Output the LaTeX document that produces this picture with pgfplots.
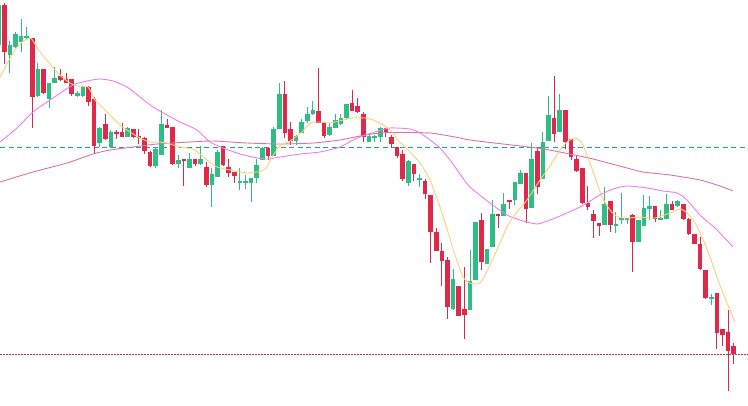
\documentclass[border=0pt]{standalone}
\usepackage{pgfplots}
\usepackage{pgfplotstable}
\pgfplotsset{compat=1.18}
\definecolor{up}{HTML}{2EBD85}
\definecolor{dn}{HTML}{E0294A}
\definecolor{dashteal}{HTML}{10AA8C}
\definecolor{dotred}{HTML}{D42D4C}
\definecolor{maA}{HTML}{FBD07C}
\definecolor{maB}{HTML}{EE7CF2}
\definecolor{maC}{HTML}{DE72A6}

% candles: index, open, high, low, close (pixel rows, top = 0)
\pgfplotstableread{
i o h l c
0 45 3 45 5
2 55 41 73 45
3 47 32 47.5 34
4 42 19 52 36
5 38 27 40 36
7 96 63 97 69
9 99 83 108 83
10 83 67 83 78
14 96 91 96.5 93
15 96 86 97 87
18 143 127 147 128
20 147 130 148 132
23 137 127 137 128
28 165.5 147.5 167.5 148.5
29 154.5 109.5 155 124
32 164 155 167.5 160
34 168 152.5 168 159
36 164 146 164.5 159
38 185 168 207 174
39 177 150 177 152
43 182 168 190 181
44 183 175 189 181
45 183 178 201.5 178
46 178 159 183 165
47 160 147 160 148
49 155.5 126.5 155.5 129
50 129 83 129 94
53 141 135 145 136
54 133 119 133 122
55 121 106.5 123 114
56 114 101 115 110
59 135 123 136 126.5
60 127.5 114 128 120
61 124 114 125 118
62 118 104 119 104
66 141.5 132.5 141.5 136
67 137.5 135 141.5 136.5
68 136.5 126.5 141.5 128
73 183 160 185.5 161
75 179.5 174 186.5 178.5
81 309 269 310 279
84 309.5 250 310 281
85 280 222 280 222
87 264 249 264 249
88 246.5 200 246.5 214
90 215.5 193 215.5 204
92 200 181.5 205 181.5
93 184 170 184 172.5
95 208 143 208 159
97 179 131.5 179 141.5
98 140.5 96 140.5 115
100 131.5 93.5 131.5 110
108 225 186.5 225 204
110 225 211.5 233 224
111 219.5 193 224 218.5
112 219.5 218 224 218.5
114 241.5 220 241.5 220
115 226 195 226 208
116 208.5 196 219.5 206
118 219.5 209.5 219.5 217.5
119 218.5 193.5 218.5 204
121 206 200 206.5 200.5
127 298 293.5 305 297
}\upT

\pgfplotstableread{
i o h l c
1 5 3 64 52
6 38 38 128 97
8 69 69 94 93
11 76 69 81 80
12 79 73 83 83
13 79 79 96 94
16 87 86 106 102
17 99 97 154 146
19 124 114 140 139
21 132 130 138.5 133.5
22 132 123 137 137
24 129 129 137.5 137
25 136 129 143.5 137.5
26 138 137 154 150.5
27 152 150.5 167 166
30 125 118.5 128 128
31 126.5 126.5 165 164
33 159 159 186 160.5
35 159 159 166 164
37 166.5 161.5 186.5 185
40 146 146 166 165
41 166.5 159 177 173
42 171.5 171.5 183 176
48 148 147 160 156
51 94 80.5 138 132.5
52 129 122 145 141
57 111 68 123 123
58 123 122.5 138 136
63 102.5 90 110.5 110.5
64 106 98 113 112
65 114 111.5 141.5 136.5
69 128 128 136.5 131.5
70 136.5 135 148 144
71 147 146.5 157.5 156
72 154 150 181 179
74 164 164 181 174
76 181 179 199 194
77 195 195 263 231.5
78 232 228 250.5 250.5
79 250.5 243 285.5 261
80 260 256.5 319 306.5
82 286 286 316 315.5
83 309 266.5 339 315
86 220 213 270 262
89 214 214 228 215
91 200 200 209 201.5
94 173 173 223 209
96 150.5 147 194 187
99 117.5 76 141.5 133.5
101 110 109.5 148.5 141.5
102 138.5 138.5 159.5 156.5
103 158.5 155 171.5 170.5
104 167.5 167.5 204 202.5
105 202.5 186 210 206.5
106 213.5 210 237.5 220.5
107 222.5 222.5 235.5 225.5
109 201 201 231.5 225
113 215 214 271.5 241.5
117 206 206 221.5 218.5
120 204 200.5 210 209.5
122 204 204 219.5 218.5
123 218.5 217.5 235 234
124 233.5 233.5 244 243.5
125 243.5 236.5 270 269
126 270 270 298.5 297.5
128 292.5 292.5 348.5 332.5
129 328.5 328.5 345.5 334.5
130 331.5 310 390.5 350.5
131 345.5 342.5 364 354
}\dnT

\pgfplotsset{
  candle/.style={only marks, mark=*, mark size=0pt,
    mark options={draw=none, fill=none, opacity=0},
    error bars/y dir=both, error bars/y explicit, error bars/error mark=none,
    error bars/error bar style={draw=#1}},
}

\begin{document}
\begin{tikzpicture}
\begin{axis}[
  scale only axis, width=748pt, height=405pt,
  xmin=0, xmax=748, ymin=0, ymax=405, y dir=reverse,
  axis line style={draw=none}, xtick=\empty, ytick=\empty,
  clip=true,
]
% reference lines
\addplot[draw=dashteal, line width=1pt, dash pattern=on 5pt off 3.5pt] coordinates {(0,147.5) (748,147.5)};
\addplot[draw=dotred, line width=1pt, dash pattern=on 1.5pt off 1.5pt] coordinates {(0,354.5) (748,354.5)};

% wicks
\addplot[candle=up, error bars/error bar style={line width=1pt}]
  table[x expr={4.3+(\thisrow{i}-1)*5.611}, y expr={(\thisrow{h}+\thisrow{l})/2}, y error expr={(\thisrow{l}-\thisrow{h})/2}] {\upT};
\addplot[candle=dn, error bars/error bar style={line width=1pt}]
  table[x expr={4.3+(\thisrow{i}-1)*5.611}, y expr={(\thisrow{h}+\thisrow{l})/2}, y error expr={(\thisrow{l}-\thisrow{h})/2}] {\dnT};
% bodies
\addplot[candle=up, error bars/error bar style={line width=4.6pt}]
  table[x expr={4.3+(\thisrow{i}-1)*5.611}, y expr={(\thisrow{o}+\thisrow{c})/2}, y error expr={max(abs(\thisrow{o}-\thisrow{c})/2,0.6)}] {\upT};
\addplot[candle=dn, error bars/error bar style={line width=4.6pt}]
  table[x expr={4.3+(\thisrow{i}-1)*5.611}, y expr={(\thisrow{o}+\thisrow{c})/2}, y error expr={max(abs(\thisrow{o}-\thisrow{c})/2,0.6)}] {\dnT};

% moving averages
\addplot[draw=maC, line width=0.9pt, smooth, tension=0.4] coordinates {
(0,182) (33,172) (67,163) (93,154) (110,150) (133,147) (157,144) (190,142) (213,141) (247,143) (280,144) (313,143) (340,140) (360,136) (380,133) (400,132.5) (430,133) (455,137) (470,140) (503,144) (537,148) (560,152) (593,159) (627,168) (643,172) (670,175) (700,180) (720,186) (733,191)};
\addplot[draw=maB, line width=0.9pt, smooth, tension=0.4] coordinates {
(0,142) (17,128) (33,112) (53,98) (73,85) (87,81) (100,79) (113,81) (127,87) (140,97) (153,107) (167,115) (180,122) (197,130) (210,142) (223,148) (240,154) (257,158) (267,159) (280,157) (300,154) (320,152) (340,147) (353,140) (360,137) (375,132) (390,128) (410,129) (420,133) (430,140) (440,148) (450,160) (460,174) (470,187) (490,203) (507,215) (520,220) (537,224) (550,220) (560,216) (580,207) (600,195) (613,189) (627,186) (647,188) (663,191) (677,193) (687,200) (700,215) (717,230) (733,247)};
\addplot[draw=maA, line width=0.9pt, smooth, tension=0.4] coordinates {
(0,77) (8,62) (15,50) (22,42) (30,38) (33,41) (40,52) (50,64) (55,70) (62,77) (70,83) (77,86) (88,87) (95,100) (103,108) (110,115) (120,125) (130,132) (140,138) (150,142) (160,142) (170,144) (180,147) (193,149) (200,154) (207,160) (217,167) (230,170) (247,173) (257,172) (262,171) (267,167) (272,157) (280,146) (290,141) (302,132) (310,123) (320,122) (330,123) (343,120) (353,118) (365,118) (370,119) (380,123) (390,130) (400,142) (410,152) (420,163) (430,180) (440,207) (448,232) (455,255) (463,277) (470,283) (480,283) (490,265) (500,243) (508,225) (517,212) (527,200) (540,180) (550,166) (560,150) (567,142) (575,138) (582,143) (588,158) (595,177) (602,197) (610,210) (618,217) (628,218) (640,217) (655,218) (670,213) (680,209) (687,213) (695,223) (702,237) (710,257) (718,280) (727,303) (735,322)};
\end{axis}
\end{tikzpicture}
\end{document}
